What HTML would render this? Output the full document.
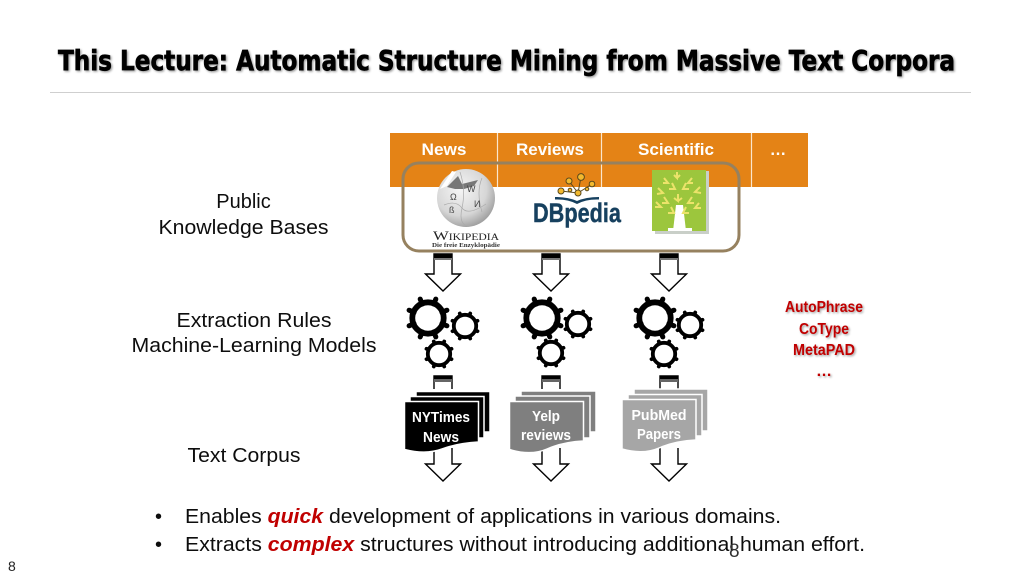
<!DOCTYPE html>
<html><head><meta charset="utf-8"><style>
html,body{margin:0;padding:0;background:#fff;width:1024px;height:576px;overflow:hidden}
svg{display:block}
text{font-family:"Liberation Sans",sans-serif}
</style></head><body>
<svg width="1024" height="576" viewBox="0 0 1024 576" xmlns="http://www.w3.org/2000/svg">
<defs>
<radialGradient id="globe" cx="40%" cy="35%" r="70%"><stop offset="0" stop-color="#f6f6f6"/><stop offset=".65" stop-color="#d6d6d6"/><stop offset="1" stop-color="#999"/></radialGradient>
<filter id="soft" x="-10%" y="-10%" width="120%" height="120%"><feGaussianBlur stdDeviation="0.3"/></filter>
<filter id="ts" x="-5%" y="-20%" width="110%" height="150%"><feDropShadow dx="1.200" dy="1.200" stdDeviation="1" flood-color="#000" flood-opacity=".4"/></filter>
<g id="bigGear" fill="none" stroke="#000"><circle r="15.700" stroke-width="5.800"/><path stroke-width="5" stroke-linecap="round" d="M13.900 5.700L18.900 7.800M5.700 13.900L7.800 18.900M-5.700 13.900L-7.800 18.900M-13.900 5.700L-18.900 7.800M-13.900 -5.700L-18.900 -7.800M-5.700 -13.900L-7.800 -18.900M5.700 -13.900L7.800 -18.900M13.900 -5.700L18.900 -7.800"/></g>
<g id="smallGear" fill="none" stroke="#000"><circle r="11.200" stroke-width="3.800"/><path stroke-width="3.800" stroke-linecap="round" d="M10.600 4.400L12.500 5.200M4.400 10.600L5.200 12.500M-4.400 10.600L-5.200 12.500M-10.600 4.400L-12.500 5.200M-10.600 -4.400L-12.500 -5.200M-4.400 -10.600L-5.200 -12.500M4.400 -10.600L5.200 -12.500M10.600 -4.400L12.500 -5.200"/></g>
<g id="downArrow" fill="#fff" stroke="#000" stroke-width="1.400"><path d="M-9 0H9V20H17.500L0 37L-17.500 20H-9Z"/><rect x="-9" y="0" width="18" height="4" fill="#000" stroke="none"/><rect x="-9" y="4" width="18" height="2" fill="#777" stroke="none"/></g>
<g id="lowArrow" fill="#fff" stroke="#000" stroke-width="1.400"><path d="M-9 0V16H-17.500L0 33L17.500 16H9V0" /></g>
</defs>

<g filter="url(#soft)">
<text x="58" y="70" font-size="28" font-weight="700" textLength="897" lengthAdjust="spacingAndGlyphs" filter="url(#ts)" style="font-family:'DejaVu Sans',sans-serif;stroke:#000;stroke-width:.7">This Lecture: Automatic Structure Mining from Massive Text Corpora</text>
<line x1="50" y1="92.500" x2="971" y2="92.500" stroke="#cfcfcf" stroke-width="1"/>

<rect x="390" y="133" width="418" height="54" fill="#E48312"/>
<path d="M497.500 133V187M601.500 133V187M751.500 133V187" stroke="#fbe6cd" stroke-width="1.200"/>
<g fill="#fff" font-size="16.500" font-weight="700" text-anchor="middle">
<text x="444" y="155" textLength="45" lengthAdjust="spacingAndGlyphs">News</text>
<text x="550" y="155" textLength="68" lengthAdjust="spacingAndGlyphs">Reviews</text>
<text x="676" y="155" textLength="76" lengthAdjust="spacingAndGlyphs">Scientific</text>
<text x="778" y="155">…</text>
</g>

<!-- Wikipedia -->
<circle cx="466" cy="198" r="29" fill="url(#globe)"/>
<path d="M447 187L458 176L462 184L478 180L474 186L464 189L455 189Z" fill="#777"/>
<path d="M440 189L452 171L456 172L447 186Z" fill="#fff"/>
<g fill="none" stroke="#aaa" stroke-width=".7"><path d="M444 205Q456 200 462 208T486 204M460 172Q466 190 462 208T470 226M482 178Q476 192 482 212"/></g>
<g fill="#444" font-size="9" style="font-family:'Liberation Serif',serif"><text x="450" y="200">Ω</text><text x="467" y="192">W</text><text x="474" y="207">И</text><text x="449" y="213">ß</text></g>
<text x="466" y="240" font-size="13" text-anchor="middle" textLength="66" lengthAdjust="spacingAndGlyphs" fill="#222" style="font-family:'Liberation Serif',serif;font-variant:small-caps">Wikipedia</text>
<text x="466" y="247" font-size="6.500" font-weight="700" text-anchor="middle" textLength="68" lengthAdjust="spacingAndGlyphs" fill="#333" style="font-family:'Liberation Serif',serif">Die freie Enzyklopädie</text>

<!-- DBpedia -->
<g stroke="#5b4a1f" stroke-width="1" fill="#f3b92f">
<path d="M578 193L569 181M578 193L581 177M578 193L592 184M578 193L561 191" fill="none"/>
<circle cx="569" cy="181" r="3"/><circle cx="581" cy="177" r="3.400"/><circle cx="592" cy="184" r="2.800"/><circle cx="561" cy="191" r="3"/><circle cx="578" cy="193" r="3"/><circle cx="587" cy="189" r="1.800"/><circle cx="570" cy="190" r="1.800"/>
</g>
<path d="M555 197Q568 197 577 201Q586 197 599 197V199.500Q586 199 577 204Q568 199 555 199.500Z" fill="#17405e"/>
<text x="577" y="222" font-size="27" font-weight="700" fill="#17405e" text-anchor="middle" textLength="88" lengthAdjust="spacingAndGlyphs" style="stroke:#17405e;stroke-width:.4">DBpedia</text>

<!-- Tree logo -->
<rect x="655" y="171" width="54" height="63" fill="#c9cfc8"/>
<rect x="652" y="170" width="54" height="61" fill="#9CC63D"/>
<path d="M673 231L676 205H683L686 231Z" fill="#fff"/><rect x="668" y="228" width="24" height="3" fill="#fff"/>
<g fill="none" stroke="#ECE36A" stroke-width="2">
<path d="M677 172v6l-3-3m3 3l3-3M664 178l4 5l-5 0M692 178l-4 5l5 0M658 188l5 5l-6 1M672 183l3 6l-6 0M686 183l-3 6l6 0M700 187l-5 5l6 1M664 197l4 6l-6 0M678 194l0 7l-4-3m4 3l4-3M692 197l-4 6l6 0M656 202l5 5l-6 0M671 207l3 6l-6 0M686 207l-3 6l6 0M699 203l-4 5l6 0"/>
</g>

<rect x="403" y="163" width="336" height="88" rx="16" ry="16" fill="none" stroke="#96815F" stroke-width="3"/>

<use href="#downArrow" x="443" y="254"/>
<use href="#downArrow" x="551" y="254"/>
<use href="#downArrow" x="669" y="254"/>

<!-- Gears -->
<use href="#bigGear" x="428" y="318"/><use href="#smallGear" x="465" y="326"/><use href="#smallGear" x="439" y="354"/>
<use href="#bigGear" x="542" y="318"/><use href="#smallGear" x="578" y="324"/><use href="#smallGear" x="551" y="353"/>
<use href="#bigGear" x="655" y="318"/><use href="#smallGear" x="690" y="325"/><use href="#smallGear" x="664" y="354"/>

<!-- Upper stubs into docs -->
<g fill="#fff" stroke="#000" stroke-width="1.400">
<path d="M434 389V376H452V389" /><path d="M542 389V376H560V389"/><path d="M660 389V376H678V389"/>
</g>
<rect x="434" y="376" width="18" height="3" fill="#000"/><rect x="434" y="379" width="18" height="3" fill="#666"/>
<rect x="542" y="376" width="18" height="3" fill="#000"/><rect x="542" y="379" width="18" height="3" fill="#666"/>
<rect x="660" y="376" width="18" height="3" fill="#000"/><rect x="660" y="379" width="18" height="3" fill="#666"/>

<!-- Lower arrows -->
<use href="#lowArrow" x="443" y="448"/>
<use href="#lowArrow" x="551" y="448"/>
<use href="#lowArrow" x="669" y="448"/>

<!-- Documents -->
<g fill="#000" stroke="#fff" stroke-width="1.500">
<path d="M416 391.500H490V432H416Z"/>
<path d="M410 396.500H484V438H410Z"/>
<path d="M404.500 401.500H478.500V442Q458 443 442 449T404.500 449.500Z"/>
</g>
<g fill="#7f7f7f" stroke="#fff" stroke-width="1.500">
<path d="M521 391H596V432H521Z"/>
<path d="M515 396H590V438H515Z"/>
<path d="M509.500 401.500H583.500V441Q563 442 547 449T509.500 449.500Z"/>
</g>
<g fill="#a6a6a6" stroke="#fff" stroke-width="1.500">
<path d="M634 389H708V431H634Z"/>
<path d="M628 394.500H702V436H628Z"/>
<path d="M622 399.500H696V440Q675 441 659 448T622 449Z"/>
</g>
<g fill="#fff" font-size="15" font-weight="700" text-anchor="middle">
<text x="441" y="422" textLength="58" lengthAdjust="spacingAndGlyphs">NYTimes</text>
<text x="441" y="442" textLength="36" lengthAdjust="spacingAndGlyphs">News</text>
<text x="546" y="421" textLength="28" lengthAdjust="spacingAndGlyphs">Yelp</text>
<text x="546" y="440" textLength="50" lengthAdjust="spacingAndGlyphs">reviews</text>
<text x="659" y="420" textLength="55" lengthAdjust="spacingAndGlyphs">PubMed</text>
<text x="659" y="439" textLength="44" lengthAdjust="spacingAndGlyphs">Papers</text>
</g>

<!-- Left labels -->
<g font-size="20" fill="#111" text-anchor="middle">
<text x="243.500" y="208">Public</text>
<text x="243.500" y="234" textLength="170" lengthAdjust="spacingAndGlyphs">Knowledge Bases</text>
<text x="254" y="327" textLength="155" lengthAdjust="spacingAndGlyphs">Extraction Rules</text>
<text x="254" y="352" textLength="245" lengthAdjust="spacingAndGlyphs">Machine-Learning Models</text>
<text x="244" y="462" textLength="113" lengthAdjust="spacingAndGlyphs">Text Corpus</text>
</g>

<!-- Red list -->
<g fill="#C00000" font-size="16" font-weight="700" text-anchor="middle" filter="url(#ts)">
<text x="824" y="312" textLength="78" lengthAdjust="spacingAndGlyphs">AutoPhrase</text>
<text x="824" y="334" textLength="50" lengthAdjust="spacingAndGlyphs">CoType</text>
<text x="824" y="355" textLength="62" lengthAdjust="spacingAndGlyphs">MetaPAD</text>
<text x="824" y="376">…</text>
</g>

<!-- Bullets -->
<g font-size="20" fill="#111">
<text x="155" y="523">•</text>
<text x="185" y="523" textLength="596" lengthAdjust="spacingAndGlyphs">Enables <tspan fill="#C00000" font-weight="700" font-style="italic">quick</tspan> development of applications in various domains.</text>
<text x="155" y="551">•</text>
<text x="185" y="551" textLength="680" lengthAdjust="spacingAndGlyphs">Extracts <tspan fill="#C00000" font-weight="700" font-style="italic">complex</tspan> structures without introducing additional human effort.</text>
</g>
<text x="729" y="557" font-size="19" fill="#333">8</text>
<text x="8" y="571" font-size="14" fill="#222">8</text>
</g>
</svg>
</body></html>
